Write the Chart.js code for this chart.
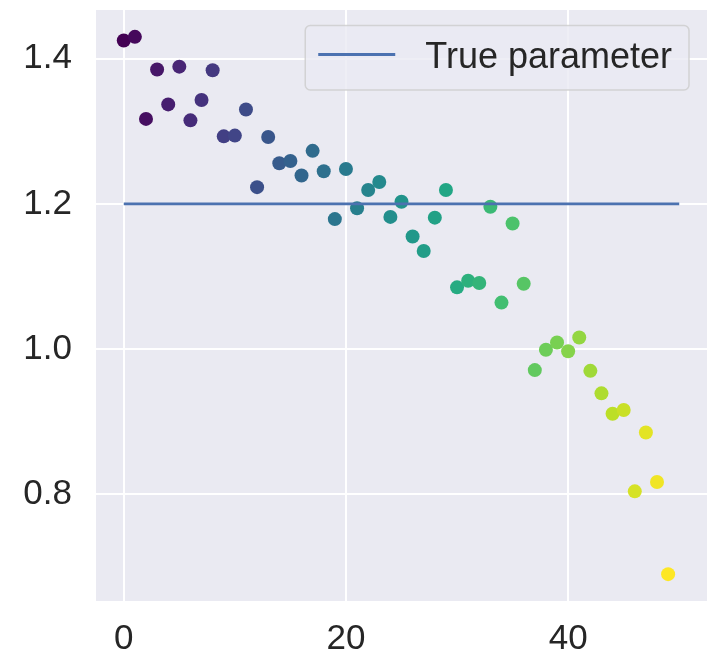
<!DOCTYPE html>
<html>
<head>
<meta charset="utf-8">
<script src="https://cdn.jsdelivr.net/npm/chart.js@4/dist/chart.umd.min.js"></script>
<style>
  html, body { margin: 0; padding: 0; background: #fff; }
  #wrap { width: 714px; height: 662px; }
</style>
</head>
<body>
<div id="wrap"><canvas id="chart" width="714" height="662"></canvas></div>
<script>
// data
const iterations = [];
for (let i = 0; i < 50; i++) iterations.push(i);
const estimates = [
    1.425, 1.430, 1.317, 1.385, 1.337, 1.389, 1.315, 1.343, 1.384, 1.293,
    1.294, 1.330, 1.223, 1.292, 1.256, 1.259, 1.239, 1.273, 1.245, 1.179,
    1.248, 1.194, 1.219, 1.230, 1.182, 1.203, 1.155, 1.135, 1.181, 1.219,
    1.085, 1.094, 1.091, 1.196, 1.064, 1.173, 1.090, 0.971, 0.999, 1.009,
    0.997, 1.016, 0.970, 0.939, 0.911, 0.916, 0.804, 0.885, 0.817, 0.690
];
const trueParam = 1.2;
const trueLineX = [0, 50];
const xTicks = [0, 20, 40];
const yTicks = [0.8, 1.0, 1.2, 1.4];

const FONT = "'Liberation Sans', Arial, sans-serif";
const TEXT = '#262626';

// viridis colormap stops
const viridisStops = ['#440154', '#482475', '#414487', '#355f8d', '#2a788e', '#21918c',
    '#22a884', '#44bf70', '#7ad151', '#bddf26', '#fde725'];

function hexToRgb(h) {
    return [parseInt(h.slice(1, 3), 16), parseInt(h.slice(3, 5), 16), parseInt(h.slice(5, 7), 16)];
}

function viridis(t) {
    const p = Math.max(0, Math.min(1, t)) * (viridisStops.length - 1);
    const i = Math.min(Math.floor(p), viridisStops.length - 2);
    const f = p - i;
    const a = hexToRgb(viridisStops[i]), b = hexToRgb(viridisStops[i + 1]);
    const c = a.map((v, k) => Math.round(v + (b[k] - v) * f));
    return 'rgb(' + c.join(',') + ')';
}

const pointColors = iterations.map(i => viridis(i / (iterations.length - 1)));

// seaborn-like background for the plot area
const plotBackground = {
    id: 'plotBackground',
    beforeDraw(chart) {
        const { ctx, chartArea: a } = chart;
        ctx.save();
        ctx.fillStyle = '#EAEAF2';
        ctx.fillRect(a.left, a.top, a.right - a.left, a.bottom - a.top);
        ctx.restore();
    }
};

// legend box drawn inside the plot, upper right
const insideLegend = {
    id: 'insideLegend',
    afterDraw(chart) {
        const { ctx, chartArea: a } = chart;
        const ds = chart.data.datasets[0];
        ctx.save();
        ctx.font = '36px ' + FONT;
        const w = ctx.measureText(ds.label).width;
        const boxRight = a.right - 18;
        const textX = boxRight - 17 - w;
        const lineX2 = textX - 30;
        const lineX1 = lineX2 - 77;
        const boxLeft = lineX1 - 13;
        const boxTop = a.top + 15.5;
        const boxBottom = a.top + 80;

        ctx.beginPath();
        ctx.roundRect(boxLeft, boxTop, boxRight - boxLeft, boxBottom - boxTop, 5);
        ctx.fillStyle = 'rgba(234,234,242,0.8)';
        ctx.fill();
        ctx.lineWidth = 1.5;
        ctx.strokeStyle = 'rgba(204,204,204,0.8)';
        ctx.stroke();

        const midY = a.top + 44.5;
        ctx.beginPath();
        ctx.moveTo(lineX1, midY);
        ctx.lineTo(lineX2, midY);
        ctx.strokeStyle = ds.borderColor;
        ctx.lineWidth = ds.borderWidth;
        ctx.stroke();

        ctx.fillStyle = TEXT;
        ctx.textBaseline = 'alphabetic';
        ctx.textAlign = 'left';
        ctx.fillText(ds.label, textX, a.top + 58);
        ctx.restore();
    }
};

new Chart(document.getElementById('chart'), {
    type: 'scatter',
    data: {
        datasets: [{
            type: 'line',
            label: 'True parameter',
            data: trueLineX.map(x => ({ x: x, y: trueParam })),
            borderColor: '#4C72B0',
            borderWidth: 2.8,
            pointRadius: 0,
            fill: false,
            order: 0
        }, {
            label: 'Estimates',
            data: iterations.map((x, i) => ({ x: x, y: estimates[i] })),
            pointBackgroundColor: pointColors,
            pointBorderWidth: 0,
            pointRadius: 7,
            order: 1
        }]
    },
    options: {
        responsive: false,
        animation: false,
        events: [],
        layout: { padding: { top: 10, right: 6, left: 0, bottom: 0 } },
        plugins: {
            legend: { display: false },
            tooltip: { enabled: false }
        },
        scales: {
            x: {
                type: 'linear',
                min: -2.5,
                max: 52.5,
                afterBuildTicks: s => { s.ticks = xTicks.map(v => ({ value: v })); },
                afterFit: s => {
                    s.height = 61;
                    s.paddingLeft = 0;
                    s.paddingRight = 0;
                },
                grid: { color: '#FFFFFF', lineWidth: 2, drawTicks: false },
                border: { display: false },
                ticks: {
                    color: TEXT,
                    font: { family: FONT, size: 35 },
                    padding: 17,
                    maxRotation: 0
                }
            },
            y: {
                type: 'linear',
                min: 0.653,
                max: 1.467,
                afterBuildTicks: s => { s.ticks = yTicks.map(v => ({ value: v })); },
                afterFit: s => {
                    s.width = 96;
                    s.paddingTop = 0;
                    s.paddingBottom = 0;
                },
                grid: { color: '#FFFFFF', lineWidth: 2, drawTicks: false },
                border: { display: false },
                ticks: {
                    color: TEXT,
                    font: { family: FONT, size: 35 },
                    padding: 24,
                    callback: v => v.toFixed(1)
                }
            }
        }
    },
    plugins: [plotBackground, insideLegend]
});
</script>
</body>
</html>
